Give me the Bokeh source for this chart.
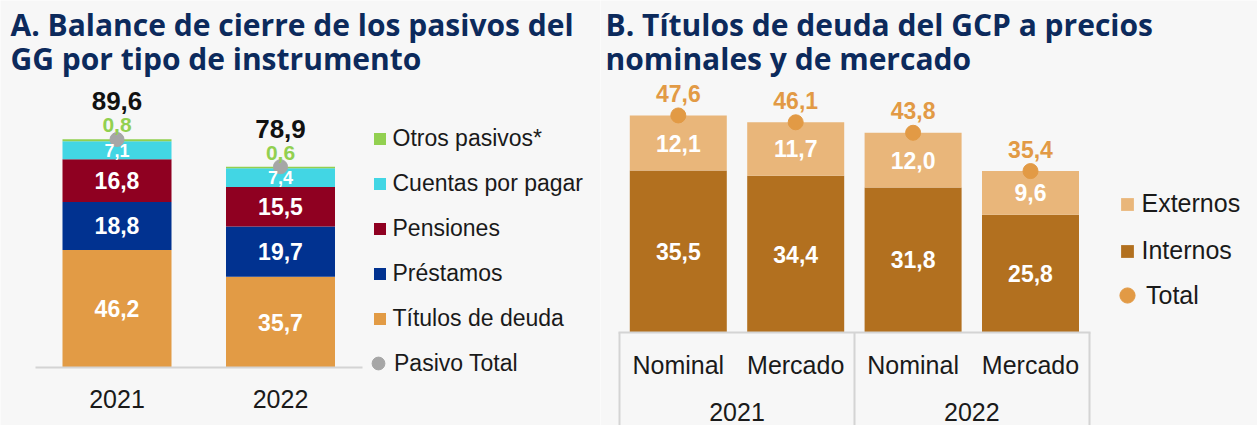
from bokeh.plotting import figure
from bokeh.models import (ColumnDataSource, Range1d, LinearAxis, FixedTicker,
                          LabelSet, Label, Legend, LegendItem)
from bokeh.layouts import row
from bokeh.embed import file_html
from bokeh.resources import INLINE
from bokeh.core.properties import value

# ---------------- data: panel A ----------------
years_a = ["2021", "2022"]
titulos_deuda = [46.2, 35.7]
prestamos = [18.8, 19.7]
pensiones = [16.8, 15.5]
cuentas_por_pagar = [7.1, 7.4]
otros_pasivos = [0.8, 0.6]
pasivo_total = [89.6, 78.9]
names_a = ["Títulos de deuda", "Préstamos", "Pensiones", "Cuentas por pagar", "Otros pasivos*"]
name_total_a = "Pasivo Total"
title_a = ["A. Balance de cierre de los pasivos del", "GG por tipo de instrumento"]

# ---------------- data: panel B ----------------
precio_b = ["Nominal", "Mercado", "Nominal", "Mercado"]
anio_b = ["2021", "2021", "2022", "2022"]
internos = [35.5, 34.4, 31.8, 25.8]
externos = [12.1, 11.7, 12.0, 9.6]
total_b = [47.6, 46.1, 43.8, 35.4]
names_b = ["Internos", "Externos"]
name_total_b = "Total"
title_b = ["B. Títulos de deuda del GCP a precios", "nominales y de mercado"]

# ---------------- style ----------------
BG = "#F7F7F7"
FONT = "Liberation Sans"
TFONT = "Open Sans"
TCOL = "#0C2A5C"
TXT = "#1A1A1A"
LINE = "#D4D4D4"
COLORS_A = ["#E29B45", "#013290", "#8F0021", "#42D6E4", "#92D050"]
GRAY = "#A6A6A6"
COLORS_B = ["#B2701F", "#E9B67A"]
ORANGE = "#E29A45"


def fmt(v):
    return f"{v:.1f}".replace(".", ",")


def stack_mids(cols):
    bottoms = [0.0] * len(cols[0])
    mids = []
    for col in cols:
        mids.append([b + v / 2 for b, v in zip(bottoms, col)])
        bottoms = [b + v for b, v in zip(bottoms, col)]
    return mids, bottoms


H = 425


def base_fig(w, x0, sx, base, sy):
    p = figure(width=w, height=H, output_backend="svg", toolbar_location=None,
               x_range=Range1d(-x0 / sx, (w - x0) / sx),
               y_range=Range1d(-(H - base) / sy, base / sy),
               x_axis_location=None, y_axis_location=None,
               min_border_left=0, min_border_right=0, min_border_top=0,
               min_border_bottom=0,
               background_fill_color=BG, border_fill_color=BG, outline_line_color=None)
    p.grid.visible = False
    return p


leg_common = dict(padding=0, margin=0, border_line_color=None, background_fill_alpha=0,
                  label_text_font=FONT, label_text_color=TXT)

# ======================= PANEL A =======================
WA = 600
BASE_A = 367
SXA, X0A, SYA = 163.5, 116.5, 2.545
pa = base_fig(WA, X0A, SXA, BASE_A, SYA)

idx_a = list(range(len(years_a)))
cols_a = [titulos_deuda, prestamos, pensiones, cuentas_por_pagar, otros_pasivos]
keys_a = ["s0", "s1", "s2", "s3", "s4"]
data_a = dict(x=idx_a, total=pasivo_total)
for k, c in zip(keys_a, cols_a):
    data_a[k] = c
src_a = ColumnDataSource(data_a)

bars_a = pa.vbar_stack(keys_a, x="x", width=109 / SXA, color=COLORS_A,
                       line_color=None, source=src_a)
dot_a = pa.scatter(x="x", y="total", size=14, color=GRAY, source=src_a)

mids_a, tops_a = stack_mids(cols_a)
big = dict(x=[], y=[], t=[])
for j in range(3):
    for i in idx_a:
        big["x"].append(i); big["y"].append(mids_a[j][i]); big["t"].append(fmt(cols_a[j][i]))
pa.add_layout(LabelSet(x="x", y="y", text="t", source=ColumnDataSource(big),
                       text_align="center", text_baseline="middle",
                       text_font=value(FONT), text_font_style="bold",
                       text_font_size="23px", text_color="white"))
pa.add_layout(LabelSet(x="x", y="y", text="t",
                       source=ColumnDataSource(dict(x=idx_a, y=mids_a[3],
                                                    t=[fmt(v) for v in cuentas_por_pagar])),
                       text_align="center", text_baseline="middle",
                       text_font=value(FONT), text_font_style="bold",
                       text_font_size="18px", text_color="white"))
pa.add_layout(LabelSet(x="x", y="y", text="t",
                       source=ColumnDataSource(dict(x=idx_a, y=pasivo_total,
                                                    t=[fmt(v) for v in otros_pasivos])),
                       text_align="center", text_baseline="middle", y_offset=14,
                       text_font=value(FONT), text_font_style="bold",
                       text_font_size="21px", text_color="#92D050"))
pa.add_layout(LabelSet(x="x", y="y", text="t",
                       source=ColumnDataSource(dict(x=idx_a, y=pasivo_total,
                                                    t=[fmt(v) for v in pasivo_total])),
                       text_align="center", text_baseline="middle", y_offset=38,
                       text_font=value(FONT), text_font_style="bold",
                       text_font_size="26px", text_color="#111111"))

ax_a = LinearAxis(fixed_location=0,
                  ticker=FixedTicker(ticks=idx_a, minor_ticks=[]),
                  major_label_overrides={i: y for i, y in zip(idx_a, years_a)},
                  bounds=(-0.5, len(years_a) - 0.5),
                  axis_line_color=LINE, axis_line_width=2,
                  major_tick_line_color=None, minor_tick_line_color=None,
                  major_label_text_font=FONT, major_label_text_font_size="25px",
                  major_label_text_color=TXT, major_label_standoff=16)
pa.add_layout(ax_a, "below")

leg_a1 = Legend(items=[LegendItem(label=n, renderers=[r])
                       for n, r in reversed(list(zip(names_a, bars_a)))],
                location=(371.5, 93), glyph_width=15, glyph_height=15,
                label_standoff=6, label_height=26, spacing=18,
                label_text_font_size="23px", **leg_common)
leg_a2 = Legend(items=[LegendItem(label=name_total_a, renderers=[dot_a])],
                location=(362, 46), glyph_width=32, glyph_height=32,
                label_standoff=0, label_height=26, spacing=0,
                label_text_font_size="23px", **leg_common)
pa.add_layout(leg_a1)
pa.add_layout(leg_a2)

for k, t in enumerate(title_a):
    pa.add_layout(Label(x=(10 - X0A) / SXA, y=(BASE_A - (24 + 34 * k)) / SYA, text=t,
                        text_font=TFONT, text_font_style="bold", text_font_size="30px",
                        text_color=TCOL, text_baseline="middle", text_align="left"))

# ======================= PANEL B =======================
WB = 657
BASE_B = 332
SXB, X0B, SYB = 117.4, 77.8, 4.56
pb = base_fig(WB, X0B, SXB, BASE_B, SYB)

idx_b = list(range(len(precio_b)))
src_b = ColumnDataSource(dict(x=idx_b, internos=internos, externos=externos, total=total_b))
bars_b = pb.vbar_stack(["internos", "externos"], x="x", width=97 / SXB, color=COLORS_B,
                       line_color=None, source=src_b)
dot_b = pb.scatter(x="x", y="total", size=15, color=ORANGE, source=src_b)

mids_b, tops_b = stack_mids([internos, externos])
lab_b = dict(x=idx_b + idx_b, y=mids_b[0] + mids_b[1],
             t=[fmt(v) for v in internos] + [fmt(v) for v in externos])
pb.add_layout(LabelSet(x="x", y="y", text="t", source=ColumnDataSource(lab_b),
                       text_align="center", text_baseline="middle",
                       text_font=value(FONT), text_font_style="bold",
                       text_font_size="23px", text_color="white"))
pb.add_layout(LabelSet(x="x", y="total", text="t",
                       source=ColumnDataSource(dict(x=idx_b, total=total_b,
                                                    t=[fmt(v) for v in total_b])),
                       text_align="center", text_baseline="middle", y_offset=22,
                       text_font=value(FONT), text_font_style="bold",
                       text_font_size="23px", text_color=ORANGE))

# group boundaries and centres from the year categories
bounds_b = [-0.5] + [i - 0.5 for i in idx_b[1:] if anio_b[i] != anio_b[i - 1]] + [len(idx_b) - 0.5]
groups = []
for i, y in zip(idx_b, anio_b):
    if not groups or groups[-1][0] != y:
        groups.append([y, []])
    groups[-1][1].append(i)
centres_b = [sum(g[1]) / len(g[1]) for g in groups]

ax_b1 = LinearAxis(fixed_location=0,
                   ticker=FixedTicker(ticks=idx_b, minor_ticks=[]),
                   major_label_overrides={i: p for i, p in zip(idx_b, precio_b)},
                   bounds=(-0.51, len(idx_b) - 0.49),
                   axis_line_color=LINE, axis_line_width=2,
                   major_tick_line_color=None, minor_tick_line_color=None,
                   major_label_text_font=FONT, major_label_text_font_size="25px",
                   major_label_text_color=TXT, major_label_standoff=12)
ax_b2 = LinearAxis(fixed_location=0,
                   ticker=FixedTicker(ticks=centres_b, minor_ticks=[]),
                   major_label_overrides={c: g[0] for c, g in zip(centres_b, groups)},
                   axis_line_color=None, major_tick_line_color=None,
                   minor_tick_line_color=None,
                   major_label_text_font=FONT, major_label_text_font_size="25px",
                   major_label_text_color=TXT, major_label_standoff=64)
ax_b3 = LinearAxis(fixed_location=0,
                   ticker=FixedTicker(ticks=[], minor_ticks=bounds_b),
                   bounds=(-0.51, len(idx_b) - 0.49),
                   axis_line_color=None, major_tick_line_color=None,
                   minor_tick_line_color=LINE, minor_tick_line_width=2,
                   minor_tick_in=0, minor_tick_out=120,
                   major_label_text_font_size="0px")
pb.add_layout(ax_b3, "below")
pb.add_layout(ax_b1, "below")
pb.add_layout(ax_b2, "below")

leg_b1 = Legend(items=[LegendItem(label=n, renderers=[r])
                       for n, r in reversed(list(zip(names_b, bars_b)))],
                location=(518.5, 160), glyph_width=16, glyph_height=16,
                label_standoff=7, label_height=28, spacing=18,
                label_text_font_size="25px", **leg_common)
leg_b2 = Legend(items=[LegendItem(label=name_total_b, renderers=[dot_b])],
                location=(508, 111), glyph_width=38, glyph_height=38,
                label_standoff=0, label_height=28, spacing=0,
                label_text_font_size="25px", **leg_common)
pb.add_layout(leg_b1)
pb.add_layout(leg_b2)

for k, t in enumerate(title_b):
    pb.add_layout(Label(x=(5 - X0B) / SXB, y=(BASE_B - (24 + 34 * k)) / SYB, text=t,
                        text_font=TFONT, text_font_style="bold", text_font_size="30px",
                        text_color=TCOL, text_baseline="middle", text_align="left"))

layout = row(pa, pb, spacing=0)
open("out.html", "w").write(file_html(layout, INLINE))
